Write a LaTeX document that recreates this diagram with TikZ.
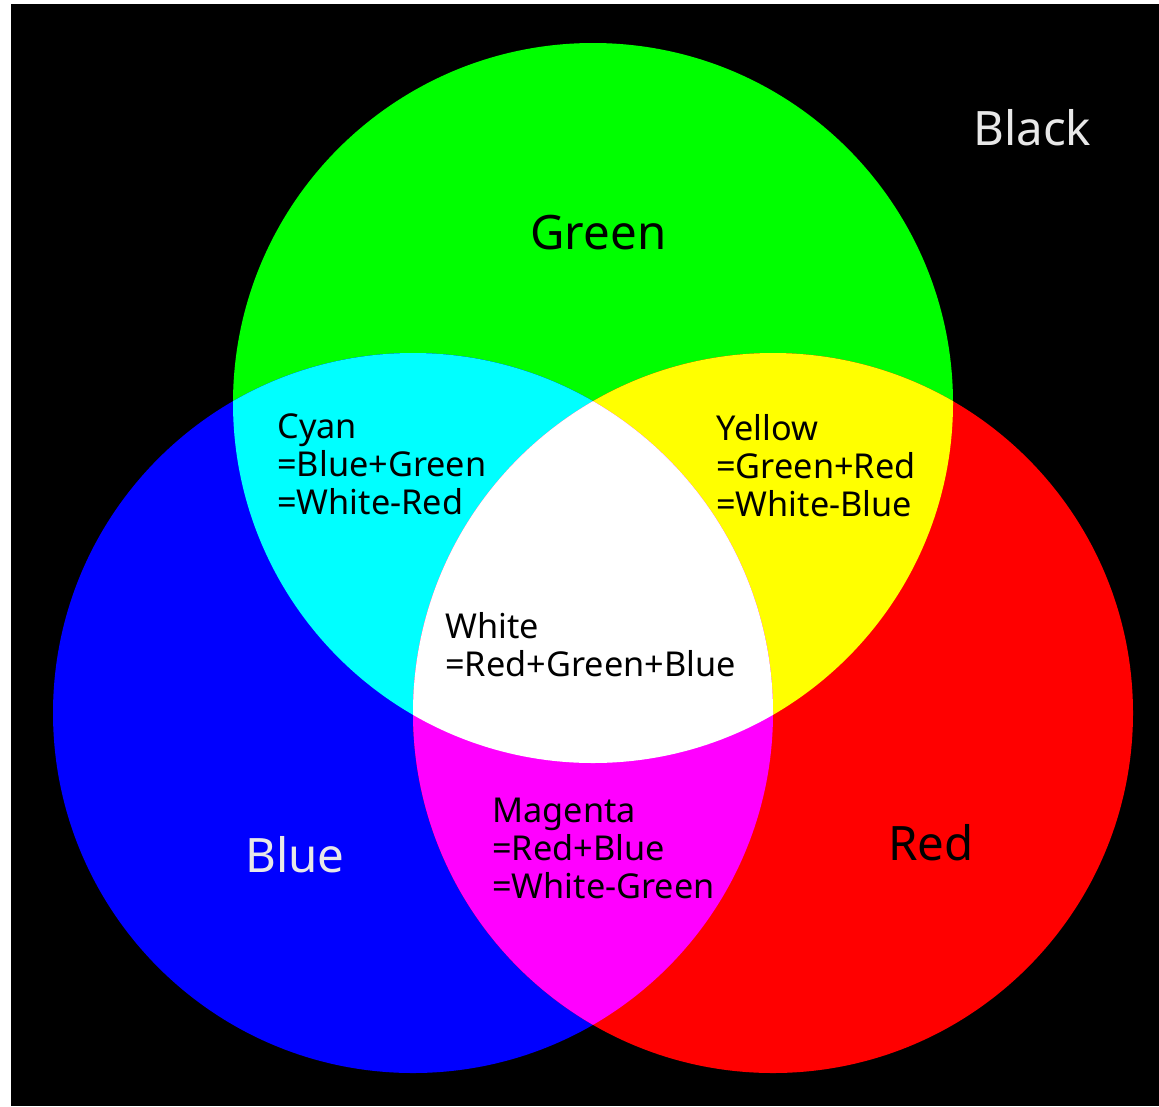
\documentclass[tikz,border=0pt]{standalone}
\usepackage{fontspec}
\setmainfont{Noto Sans}
\usetikzlibrary{positioning}
\definecolor{mixcyan}{RGB}{0,255,255}
\definecolor{mixyellow}{RGB}{255,255,0}
\definecolor{mixmagenta}{RGB}{255,0,255}
\definecolor{pal}{RGB}{232,232,232}

\begin{document}
\begin{tikzpicture}[
        x=0.02cm, y=-0.02cm,
        big/.style={inner sep=0, anchor=base west, font=\fontsize{27}{32}\selectfont},
        small/.style={inner sep=0, anchor=base west, align=left, font=\fontsize{19.5}{21.6}\selectfont},
        pale/.style={text=pal}
    ]
    % frame
    \fill[white] (0,0) rectangle (1159,1106);
    \useasboundingbox (0,0) rectangle (1159,1106);
    \fill[black] (11,4) rectangle (1159,1106);

    \coordinate (g) at (593,403);
    \coordinate (b) at (413,713);
    \coordinate (r) at (773,713);

    % primaries
    \fill[green] (g) circle (360);
    \fill[blue] (b) circle (360);
    \fill[red] (r) circle (360);

    % mixes
    \begin{scope}
        \clip (b) circle (360);
        \fill[mixcyan] (g) circle (360);
    \end{scope}
    \begin{scope}
        \clip (r) circle (360);
        \fill[mixyellow] (g) circle (360);
    \end{scope}
    \begin{scope}
        \clip (r) circle (360);
        \fill[mixmagenta] (b) circle (360);
    \end{scope}
    \begin{scope}
        \clip (r) circle (360);
        \clip (b) circle (360);
        \fill[white] (g) circle (360);
    \end{scope}

    % labels (base = last line)
    \node[big, pale] (blacklbl) at (973,145) {Black};
    \node[big] (greenlbl) at (530,249) {Green};
    \node[big, pale] (bluelbl) at (245,872) {Blue};
    \node[big] (redlbl) at (888,860) {Red};

    \node[small] (cyanlbl) at (277,514) {Cyan\\=Blue+Green\\=White-Red};
    \node[small] (yellowlbl) at (716,516) {Yellow\\=Green+Red\\=White-Blue};
    \node[small] (whitelbl) at (445,676) {White\\=Red+Green+Blue};
    \node[small] (magentalbl) at (492,898) {Magenta\\=Red+Blue\\=White-Green};
\end{tikzpicture}
\end{document}
